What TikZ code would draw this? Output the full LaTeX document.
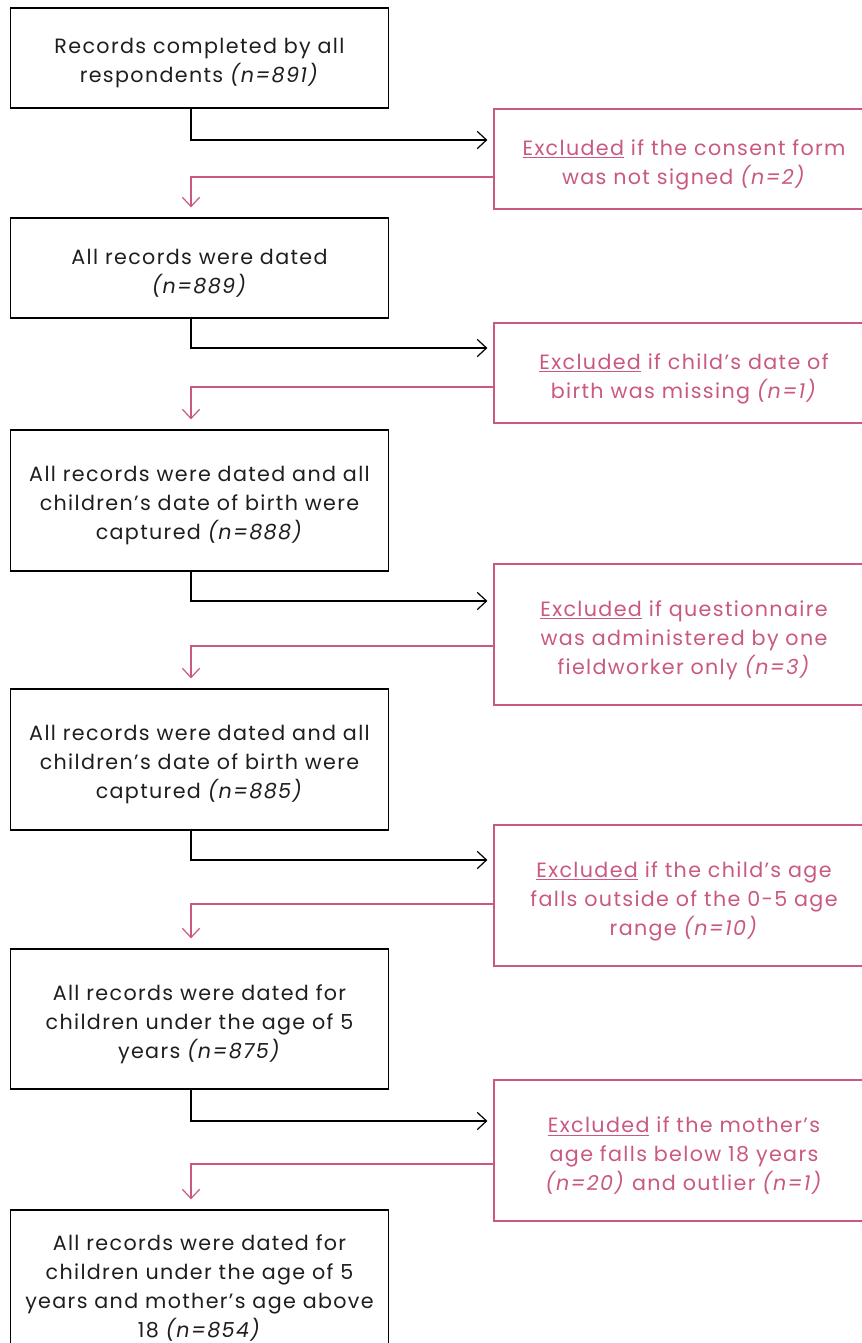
\documentclass[tikz,border=0pt]{standalone}
\usepackage{fontspec}
\setmainfont{Poppins}[LetterSpace=6.5]
\usetikzlibrary{arrows.meta}
\definecolor{pnk}{RGB}{201,88,130}
\definecolor{ink}{RGB}{30,30,30}
\begin{document}
\begin{tikzpicture}[x=0.75pt,y=-0.75pt,
  every node/.style={font=\fontsize{15.5}{21.75}\selectfont, align=center, inner sep=0pt},
  mainbox/.style={draw=black, line width=0.9pt, minimum width=284pt},
  exbox/.style={draw=pnk, line width=0.9pt, minimum width=285pt},
  mt/.style={yshift=-4.1pt, text=ink},
  et/.style={yshift=-4.1pt, text=pnk},
  blk/.style={draw=black, line width=0.9pt, -{Straight Barb[length=7pt,width=13pt]}, shorten >=4.5pt},
  pk/.style={draw=pnk, line width=0.9pt, -{Straight Barb[length=7pt,width=13pt]}, shorten >=7.5pt}]
\useasboundingbox (0,0) rectangle (861,1343);
% main boxes
\node[mainbox, minimum height=75pt, label={[mt]center:{Records completed by all\\respondents \textit{(n=891)}}}] (a) at (199.5,58) {};
\node[mainbox, minimum height=75pt, label={[mt]center:{All records were dated\\\textit{(n=889)}}}] (b) at (199.5,268) {};
\node[mainbox, minimum height=105.75pt, label={[mt]center:{All records were dated and all\\children’s date of birth were\\captured \textit{(n=888)}}}] (c) at (199.5,500.5) {};
\node[mainbox, minimum height=105.75pt, label={[mt]center:{All records were dated and all\\children’s date of birth were\\captured \textit{(n=885)}}}] (d) at (199.5,759.5) {};
\node[mainbox, minimum height=105pt, label={[mt]center:{All records were dated for\\children under the age of 5\\years \textit{(n=875)}}}] (e) at (199.5,1019) {};
\node[mainbox, minimum height=109.5pt, label={[mt]center:{All records were dated for\\children under the age of 5\\years and mother’s age above\\18 \textit{(n=854)}}}] (f) at (199.5,1283) {};
% exclusion boxes
\node[exbox, minimum height=75pt, label={[et]center:{\underline{Excluded} if the consent form\\was not signed \textit{(n=2)}}}] (r1) at (684,159) {};
\node[exbox, minimum height=75pt, label={[et]center:{\underline{Excluded} if child’s date of\\birth was missing \textit{(n=1)}}}] (r2) at (684,373) {};
\node[exbox, minimum height=105.75pt, label={[et]center:{\underline{Excluded} if questionnaire\\was administered by one\\fieldworker only \textit{(n=3)}}}] (r3) at (684,634.5) {};
\node[exbox, minimum height=105.75pt, label={[et]center:{\underline{Excluded} if the child’s age\\falls outside of the 0-5 age\\range \textit{(n=10)}}}] (r4) at (684,895.5) {};
\node[exbox, minimum height=105.75pt, label={[et]center:{\underline{Excluded} if the mother’s\\age falls below 18 years\\\textit{(n=20)} and outlier \textit{(n=1)}}}] (r5) at (684,1150.5) {};
% connectors
\draw[blk] (a.south -| 191,0) |- (r1.west |- 0,140);
\draw[pk] (r1.west |- 0,177) -| (b.north -| 191,0);
\draw[blk] (b.south -| 191,0) |- (r2.west |- 0,348);
\draw[pk] (r2.west |- 0,387) -| (c.north -| 191,0);
\draw[blk] (c.south -| 191,0) |- (r3.west |- 0,601);
\draw[pk] (r3.west |- 0,646) -| (d.north -| 191,0);
\draw[blk] (d.south -| 191,0) |- (r4.west |- 0,860);
\draw[pk] (r4.west |- 0,904) -| (e.north -| 191,0);
\draw[blk] (e.south -| 191,0) |- (r5.west |- 0,1121);
\draw[pk] (r5.west |- 0,1164) -| (f.north -| 191,0);
\end{tikzpicture}
\end{document}
